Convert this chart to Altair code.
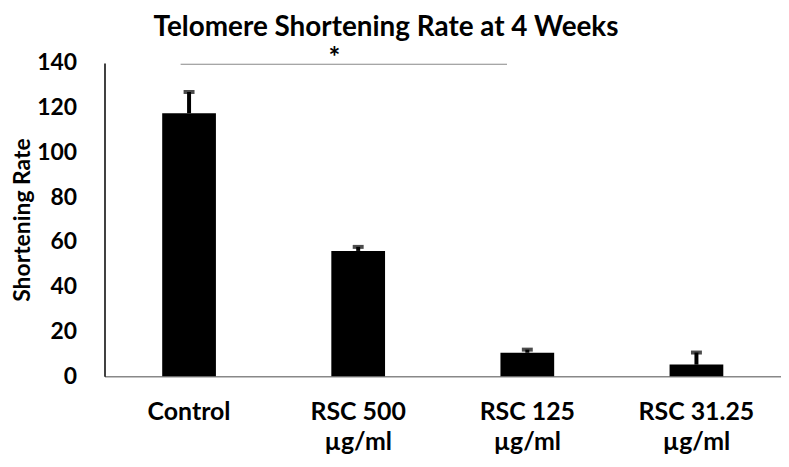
import altair as alt
import pandas as pd

categories = ["Control", "RSC 500\nµg/ml", "RSC 125\nµg/ml", "RSC 31.25\nµg/ml"]
values = [117.5, 56, 10.5, 5.2]
errors = [9.5, 1.8, 1.4, 5.4]
chart_title = "Telomere Shortening Rate at 4 Weeks"

df = pd.DataFrame({"cat": categories, "val": values,
                   "upper": [v + e for v, e in zip(values, errors)]})

sig = pd.DataFrame({"start": [categories[0]], "end": [categories[2]],
                    "y": [139.4], "mid": [categories[1]], "ystar": [141.5], "star": ["*"]})
title_df = pd.DataFrame({"t": [chart_title]})

FONT = "Lato"
xscale = alt.Scale(domain=categories, paddingInner=0, paddingOuter=0)

xenc = alt.X("cat:N", title=None, scale=xscale,
             axis=alt.Axis(labelExpr="split(datum.label, '\\n')", labelAngle=0,
                           labelFont=FONT, labelFontSize=25, labelFontWeight="bold",
                           labelColor="black", labelPadding=43, labelLineHeight=31,
                           ticks=False, domainColor="#888888", domainWidth=1.5,
                           labelBaseline="alphabetic"))
yenc = alt.Y("val:Q", title="Shortening Rate",
             scale=alt.Scale(domain=[0, 140], nice=False),
             axis=alt.Axis(values=[0, 20, 40, 60, 80, 100, 120, 140], grid=False, ticks=False,
                           labelFont=FONT, labelFontSize=23, labelFontWeight="bold",
                           labelColor="black", labelPadding=28,
                           titleFont=FONT, titleFontSize=23, titleFontWeight="bold",
                           titleColor="black", titleX=-75, titleY=157.5,
                           titleBaseline="alphabetic", titleAngle=270,
                           domainColor="black", domainWidth=1.5))

bars = alt.Chart(df).mark_bar(size=54, color="black").encode(x=xenc, y=yenc)
stems = alt.Chart(df).mark_rule(color="black", strokeWidth=4).encode(
    x=alt.X("cat:N", scale=xscale), y="val:Q", y2="upper:Q")
caps = alt.Chart(df).mark_tick(color="black", size=11, thickness=4).encode(
    x=alt.X("cat:N", scale=xscale), y="upper:Q")

line = alt.Chart(sig).mark_rule(color="#888888", strokeWidth=1.2).encode(
    x=alt.X("start:N", scale=xscale, bandPosition=0.45),
    x2=alt.X2("end:N", bandPosition=0.38),
    y="y:Q")
star = alt.Chart(sig).mark_text(font=FONT, fontSize=28, fontWeight="bold", color="black",
                                clip=False).encode(
    x=alt.X("mid:N", scale=xscale, bandPosition=0.36),
    y="ystar:Q", text="star:N")

title = alt.Chart(title_df).mark_text(font=FONT, fontSize=28, fontWeight="bold", color="black",
                                      align="center", baseline="alphabetic", clip=False).encode(
    x=alt.value(283), y=alt.value(-27), text="t:N")

chart = alt.layer(bars, stems, caps, line, star, title).properties(
    width=680, height=315,
    autosize=alt.AutoSizeParams(type="none"),
    padding={"left": 97, "top": 54, "right": 0, "bottom": 82},
).configure_view(stroke=None)

chart.save("out.html", embed_options={"renderer": "svg", "actions": False})
